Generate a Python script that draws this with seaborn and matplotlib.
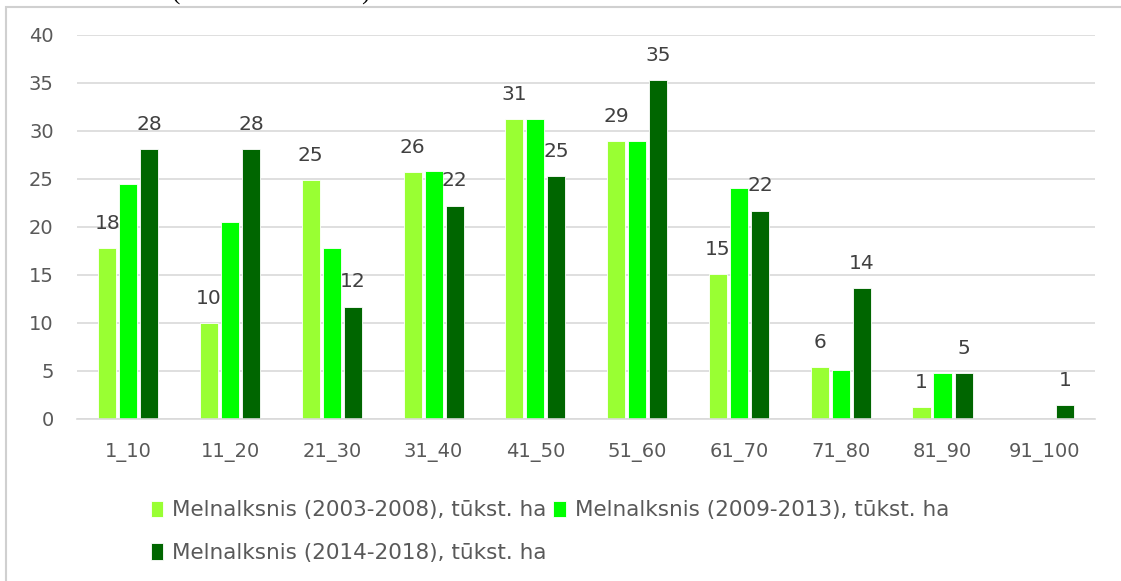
import numpy as np
import pandas as pd
import seaborn as sns
from matplotlib import pyplot as plt
from matplotlib.patches import Rectangle

# Age classes and areas (thousand ha)
age_classes = ['1_10', '11_20', '21_30', '31_40', '41_50', '51_60', '61_70', '71_80', '81_90', '91_100']
period_names = ['Melnalksnis (2003-2008), tūkst. ha',
                'Melnalksnis (2009-2013), tūkst. ha',
                'Melnalksnis (2014-2018), tūkst. ha']
area_2003_2008 = [17.8, 10.0, 24.9, 25.7, 31.2, 28.9, 15.1, 5.4, 1.2, 0.0]
area_2009_2013 = [24.5, 20.5, 17.8, 25.8, 31.2, 28.9, 24.1, 5.1, 4.8, 0.0]
area_2014_2018 = [28.1, 28.1, 11.7, 22.2, 25.3, 35.3, 21.7, 13.6, 4.8, 1.4]
# data labels shown in the original (middle series has none)
labels_2003_2008 = ['18', '10', '25', '26', '31', '29', '15', '6', '1', '']
labels_2014_2018 = ['28', '28', '12', '22', '25', '35', '22', '14', '5', '1']

colors = ['#99ff33', '#00ff00', '#006600']

df = pd.DataFrame({
    'age': age_classes * 3,
    'area': area_2003_2008 + area_2009_2013 + area_2014_2018,
    'period': np.repeat(period_names, len(age_classes)),
})

sns.set_style('white')
plt.rcParams['font.family'] = ['DejaVu Sans']

fig = plt.figure(figsize=(11.21, 5.81), dpi=100)
ax = fig.add_axes([0.069, 0.279, 0.908, 0.661])

sns.barplot(data=df, x='age', y='area', hue='period', palette=colors, saturation=1,
            width=0.62, gap=0.14, edgecolor='white', linewidth=0.6, ax=ax)

ax.bar_label(ax.containers[0], labels=labels_2003_2008, padding=11, fontsize=14.5, color='#404040')
ax.bar_label(ax.containers[2], labels=labels_2014_2018, padding=11, fontsize=14.5, color='#404040')

ax.set_ylim(0, 40)
ax.set_yticks(range(0, 41, 5))
ax.set_xlim(-0.5, len(age_classes) - 0.5)
ax.grid(axis='y', color='#d9d9d9', linewidth=1.2)
ax.set_axisbelow(True)
for side in ['top', 'right', 'left']:
    ax.spines[side].set_visible(False)
ax.spines['bottom'].set_color('#d9d9d9')
ax.spines['bottom'].set_linewidth(1.2)
ax.tick_params(axis='both', length=0, labelsize=14, labelcolor='#595959')
ax.tick_params(axis='x', pad=17)
ax.tick_params(axis='y', pad=17)
ax.set_xlabel('')
ax.set_ylabel('')

handles, labels = ax.get_legend_handles_labels()
ax.get_legend().remove()
order = [0, 2, 1]
fig.legend([handles[i] for i in order], [labels[i] for i in order], ncol=2,
           loc='upper left', bbox_to_anchor=(0.117, 0.172), frameon=False,
           fontsize=15.5, labelcolor='#595959', handlelength=0.6, handleheight=0.8,
           handletextpad=0.4, columnspacing=0.3, labelspacing=1.05)

# chart frame and cut-off source note at the top
fig.patches.append(Rectangle((0.005, -0.01), 1.2, 0.998, transform=fig.transFigure,
                             fill=False, edgecolor='#d0d0d0', linewidth=1.5))
fig.text(0.242, 1.012, '(Data avots: NMM)', family='Liberation Serif', fontsize=18,
         ha='center', va='center', color='black')

plt.savefig('out.png', dpi=100)
